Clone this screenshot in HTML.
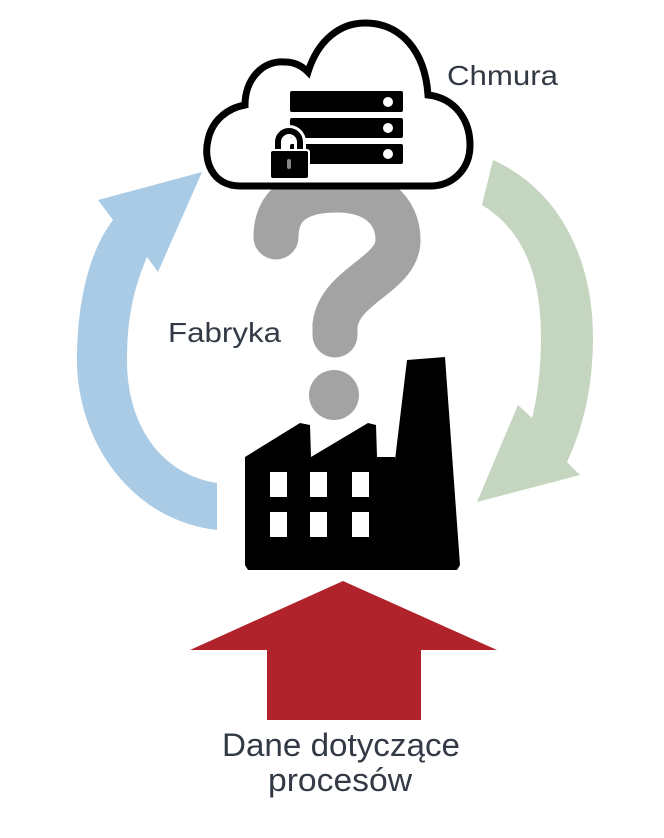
<!DOCTYPE html>
<html><head><meta charset="utf-8"><style>
html,body{margin:0;padding:0;background:#fff;}
svg{display:block;}
text{font-family:"Liberation Sans",sans-serif;fill:#333a45;}
</style></head><body>
<svg width="664" height="838" viewBox="0 0 664 838" xmlns="http://www.w3.org/2000/svg">
<!-- blue arrow -->
<path d="M217,530 C130,520 77,440 77,360 C77,300 90,250 113,220 L98,200 L202,172 L158,272 L147,257 C133,290 127,320 127,360 C127,430 165,475 217,483 Z" fill="#a9cbe5"/>
<!-- green arrow -->
<path d="M493,160 C560,190 593,260 593,337 C593,390 582,430 567,462 L580,475 L477,502 L518,405 L532,418 C538,395 541,365 541,337 C541,270 520,228 482,205 Z" fill="#c4d6bf"/>
<!-- question mark -->
<path d="M276,237 C276,200 305,190 337,190 C375,190 398,210 398,240 C398,275 340,285 335,325 L335,335" fill="none" stroke="#a3a3a3" stroke-width="45" stroke-linecap="round" stroke-linejoin="round"/>
<circle cx="334" cy="395" r="25" fill="#a3a3a3"/>
<!-- cloud -->
<path d="M240,186 C212,186 203,160 208,140 C212,120 228,108 245,105 C245,80 262,60 285,62 C295,62 302,66 308,72 C318,40 340,23 365,23 C400,23 425,50 428,95 C455,98 470,120 470,145 C470,170 452,186 430,186 Z" fill="#fff" stroke="#000" stroke-width="7"/>
<!-- servers -->
<rect x="290" y="91" width="113" height="21" rx="2" fill="#000"/>
<rect x="290" y="118" width="113" height="20" rx="2" fill="#000"/>
<rect x="290" y="144" width="113" height="20" rx="2" fill="#000"/>
<circle cx="388" cy="102" r="5" fill="#fff"/>
<circle cx="388" cy="128" r="5" fill="#fff"/>
<circle cx="388" cy="154" r="5" fill="#fff"/>
<!-- lock -->
<path d="M278,152 L278,142 A11,11 0 0 1 300,142 L300,152" fill="none" stroke="#fff" stroke-width="12"/>
<path d="M278,152 L278,142 A11,11 0 0 1 300,142 L300,152" fill="none" stroke="#000" stroke-width="6"/>
<rect x="268" y="149" width="42" height="31" rx="3" fill="#fff"/>
<rect x="271" y="151" width="37" height="27" rx="2" fill="#000"/>
<rect x="287" y="159" width="4" height="10" rx="2" fill="#888"/>
<!-- factory -->
<path d="M245,457 L300,423 L310,425 L311,457 L368,423 L376,425 L377,457 L395,457 L395,460 L407,360 L445,357 L460,565 L457,570 L248,570 L245,565 Z" fill="#000"/>
<g fill="#fff">
<rect x="270" y="472" width="17" height="25"/><rect x="310" y="472" width="17" height="25"/><rect x="352" y="472" width="17" height="25"/>
<rect x="270" y="512" width="17" height="25"/><rect x="310" y="512" width="17" height="25"/><rect x="352" y="512" width="17" height="25"/>
</g>
<!-- red arrow -->
<path d="M343,581 L497,650 L421,650 L421,720 L267,720 L267,650 L190,650 Z" fill="#b0232a"/>
<!-- labels -->
<text x="447" y="85" font-size="28" textLength="111" lengthAdjust="spacingAndGlyphs">Chmura</text>
<text x="168" y="342" font-size="28" textLength="113" lengthAdjust="spacingAndGlyphs">Fabryka</text>
<text x="222" y="756" font-size="32" textLength="238" lengthAdjust="spacingAndGlyphs">Dane dotyczące</text>
<text x="268" y="791" font-size="32" textLength="144" lengthAdjust="spacingAndGlyphs">procesów</text>
</svg>
</body></html>
